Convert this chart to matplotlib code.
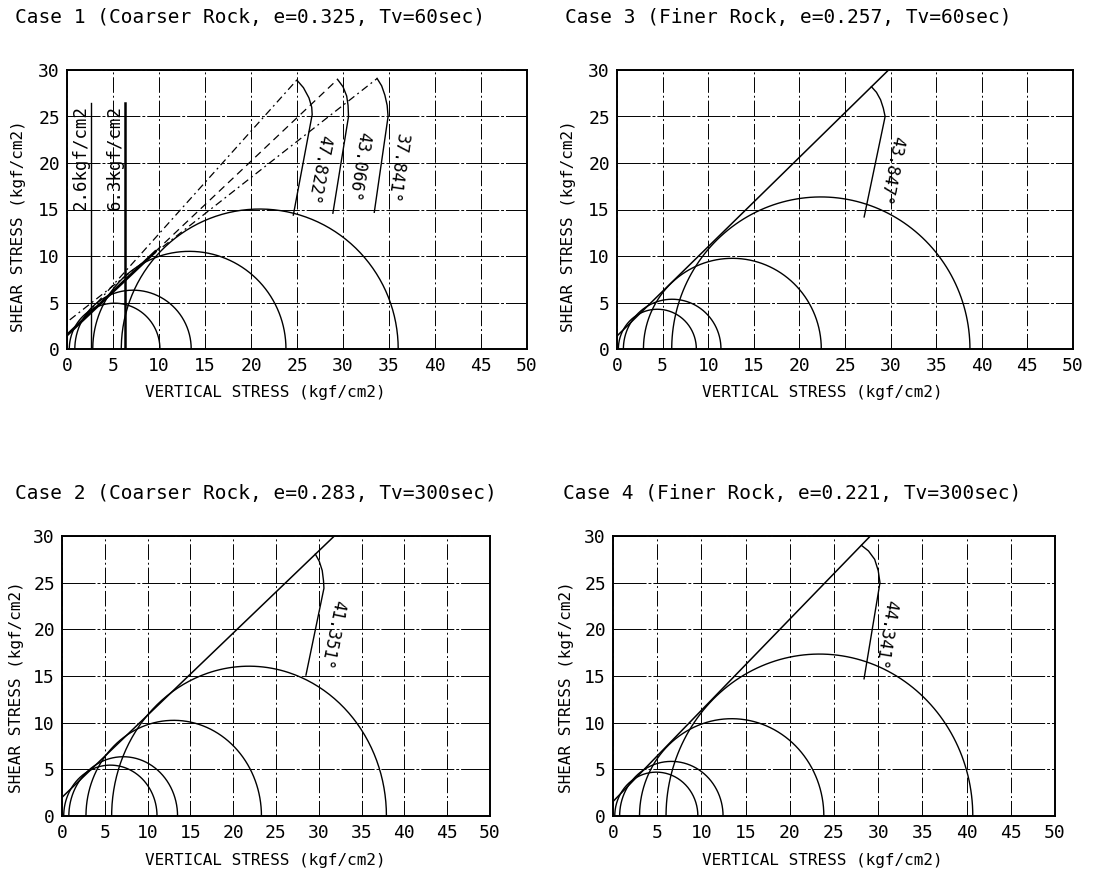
import numpy as np
import matplotlib.pyplot as plt

plt.rcParams['font.family'] = 'DejaVu Sans Mono'

W, H = 1102, 874

# titles of the four panels (reading order: case1, case3 / case2, case4)
titles = ['Case 1 (Coarser Rock, e=0.325, Tv=60sec)',
          'Case 3 (Finer Rock, e=0.257, Tv=60sec)',
          'Case 2 (Coarser Rock, e=0.283, Tv=300sec)',
          'Case 4 (Finer Rock, e=0.221, Tv=300sec)']

# Mohr circles, minor / major principal stress [kgf/cm2]
case1_s3 = [0.25, 0.85, 2.8, 5.9]
case1_s1 = [10.1, 13.5, 23.8, 36.0]
case2_s3 = [0.2, 0.8, 2.8, 5.8]
case2_s1 = [11.1, 13.5, 23.3, 37.9]
case3_s3 = [0.15, 0.7, 2.9, 6.0]
case3_s1 = [8.7, 11.4, 22.4, 38.7]
case4_s3 = [0.2, 0.75, 3.0, 6.0]
case4_s1 = [9.6, 12.45, 23.85, 40.7]

# failure envelopes: cohesion [kgf/cm2], friction angle [deg]
coh = {1: 1.5, 2: 2.0, 3: 1.4, 4: 1.55}
phi = {1: 43.066, 2: 41.351, 3: 43.847, 4: 44.341}

# case 1: trial envelopes (dashed) and confining pressure lines
trial_phi = [47.822, 43.066, 37.841]
trial_coh = [1.35, 1.5, 2.9]
trial_from = [2.0, 9.6, 0.3]
trial_to = [25.0, 29.4, 33.7]
confining = [2.6, 6.3]
confining_top = 26.4
case1_solid_to = 9.6

# angle marker curves (x, y) and label centres
arc1a_x = [25.0, 25.7, 26.3, 26.6, 26.65, 24.6]
arc1a_y = [28.9, 28.1, 27.0, 26.0, 25.2, 14.4]
arc1b_x = [29.4, 30.0, 30.4, 30.55, 30.6, 28.9]
arc1b_y = [29.0, 28.2, 27.2, 26.2, 25.0, 14.6]
arc1c_x = [33.7, 34.2, 34.55, 34.8, 34.9, 33.4]
arc1c_y = [29.1, 28.3, 27.3, 26.2, 25.0, 14.7]
arc2_x = [29.6, 30.05, 30.4, 30.55, 30.6, 28.5]
arc2_y = [28.05, 27.3, 26.3, 25.2, 24.4, 15.1]
arc3_x = [27.9, 28.45, 28.9, 29.2, 29.4, 27.1]
arc3_y = [28.2, 27.6, 26.8, 25.9, 25.0, 14.2]
arc4_x = [28.1, 28.9, 29.6, 30.0, 30.2, 28.4]
arc4_y = [29.0, 28.4, 27.5, 26.3, 25.0, 14.7]

lab1_xy = [(27.3, 19.3), (31.7, 19.6), (35.8, 19.4)]
lab2_xy = [(31.5, 19.5)]
lab3_xy = [(30.0, 19.2)]
lab4_xy = [(30.8, 19.5)]

xticks = np.arange(0, 55, 5)
yticks = np.arange(0, 35, 5)

fig = plt.figure(figsize=(W / 100, H / 100), dpi=100)


def px_axes(left, top, right, bottom):
    return fig.add_axes([left / W, 1 - bottom / H, (right - left) / W, (bottom - top) / H])


def setup(ax):
    ax.set_xlim(0, 50)
    ax.set_ylim(0, 30)
    ax.set_xticks(xticks)
    ax.set_yticks(yticks)
    ax.tick_params(length=0, labelsize=13)
    ax.tick_params(axis='x', pad=6)
    ax.tick_params(axis='y', pad=5)
    ax.xaxis.grid(True, color='k', lw=0.7, ls=(0, (16, 3, 2, 3)))
    ax.yaxis.grid(True, color='k', lw=0.7, ls=(0, (34, 2, 3, 2)))
    for s in ax.spines.values():
        s.set_linewidth(1.4)


def circles(ax, s3, s1):
    t = np.linspace(0, np.pi, 200)
    for a, b in zip(s3, s1):
        c, r = (a + b) / 2, (b - a) / 2
        ax.plot(c + r * np.cos(t), r * np.sin(t), color='k', lw=1.0)


def envelope(ax, c, p, x0=0, x1=None, **kw):
    k = np.tan(np.radians(p))
    if x1 is None:
        x1 = (30 - c) / k
    xs = np.array([x0, x1])
    ax.plot(xs, c + k * xs, color='k', **kw)


def angle_mark(ax, xs, ys, txt, xy):
    ax.plot(xs, ys, color='k', lw=1.0)
    p0 = ax.transData.transform((xs[-2], ys[-2]))
    p1 = ax.transData.transform((xs[-1], ys[-1]))
    rot = np.degrees(np.arctan2(p1[1] - p0[1], p1[0] - p0[0]))
    ax.text(xy[0], xy[1], txt, rotation=rot, rotation_mode='anchor',
            ha='center', va='center', fontsize=12)


ax1 = px_axes(67, 70, 527, 349)
ax3 = px_axes(617, 70, 1073, 349)
ax2 = px_axes(62, 536, 490, 816)
ax4 = px_axes(613, 536, 1055, 816)

for ax in [ax1, ax2, ax3, ax4]:
    setup(ax)

# case 1
circles(ax1, case1_s3, case1_s1)
envelope(ax1, coh[1], phi[1], 0, case1_solid_to, lw=2.0)
trial_ls = [(0, (6, 3, 1.5, 3)), (0, (6, 4)), (0, (6, 3, 1.5, 3))]
for p, c, a, b, ls in zip(trial_phi, trial_coh, trial_from, trial_to, trial_ls):
    envelope(ax1, c, p, a, b, lw=0.9, ls=ls)
for v, lw in zip(confining, [1.0, 1.8]):
    ax1.plot([v, v], [0, confining_top], color='k', lw=lw)
    ax1.text(v - 0.15, confining_top - 0.2, '{}kgf/cm2'.format(v), rotation=90,
             ha='right', va='top', fontsize=12.5)
for xs, ys, p, xy in zip([arc1a_x, arc1b_x, arc1c_x], [arc1a_y, arc1b_y, arc1c_y],
                         trial_phi, lab1_xy):
    angle_mark(ax1, xs, ys, '{:.3f}°'.format(p), xy)

# case 2
circles(ax2, case2_s3, case2_s1)
envelope(ax2, coh[2], phi[2], lw=1.1)
angle_mark(ax2, arc2_x, arc2_y, '{:.3f}°'.format(phi[2]), lab2_xy[0])

# case 3
circles(ax3, case3_s3, case3_s1)
envelope(ax3, coh[3], phi[3], lw=1.1)
angle_mark(ax3, arc3_x, arc3_y, '{:.3f}°'.format(phi[3]), lab3_xy[0])

# case 4
circles(ax4, case4_s3, case4_s1)
envelope(ax4, coh[4], phi[4], lw=1.1)
angle_mark(ax4, arc4_x, arc4_y, '{:.3f}°'.format(phi[4]), lab4_xy[0])

# titles and axis labels in figure pixels
title_pos = [(15, 18), (565, 18), (15, 494), (563, 494)]
for t, (x, y) in zip(titles, title_pos):
    fig.text(x / W, 1 - y / H, t, ha='left', va='center', fontsize=14)

for x, y in [(265, 392), (822, 392), (265, 860), (822, 860)]:
    fig.text(x / W, 1 - y / H, 'VERTICAL STRESS (kgf/cm2)', ha='center', va='center', fontsize=11.5)
for x, y in [(19, 226), (569, 226), (17, 687), (567, 687)]:
    fig.text(x / W, 1 - y / H, 'SHEAR STRESS (kgf/cm2)', ha='center', va='center',
             rotation=90, fontsize=11.5)

fig.savefig('out.png', dpi=100)
